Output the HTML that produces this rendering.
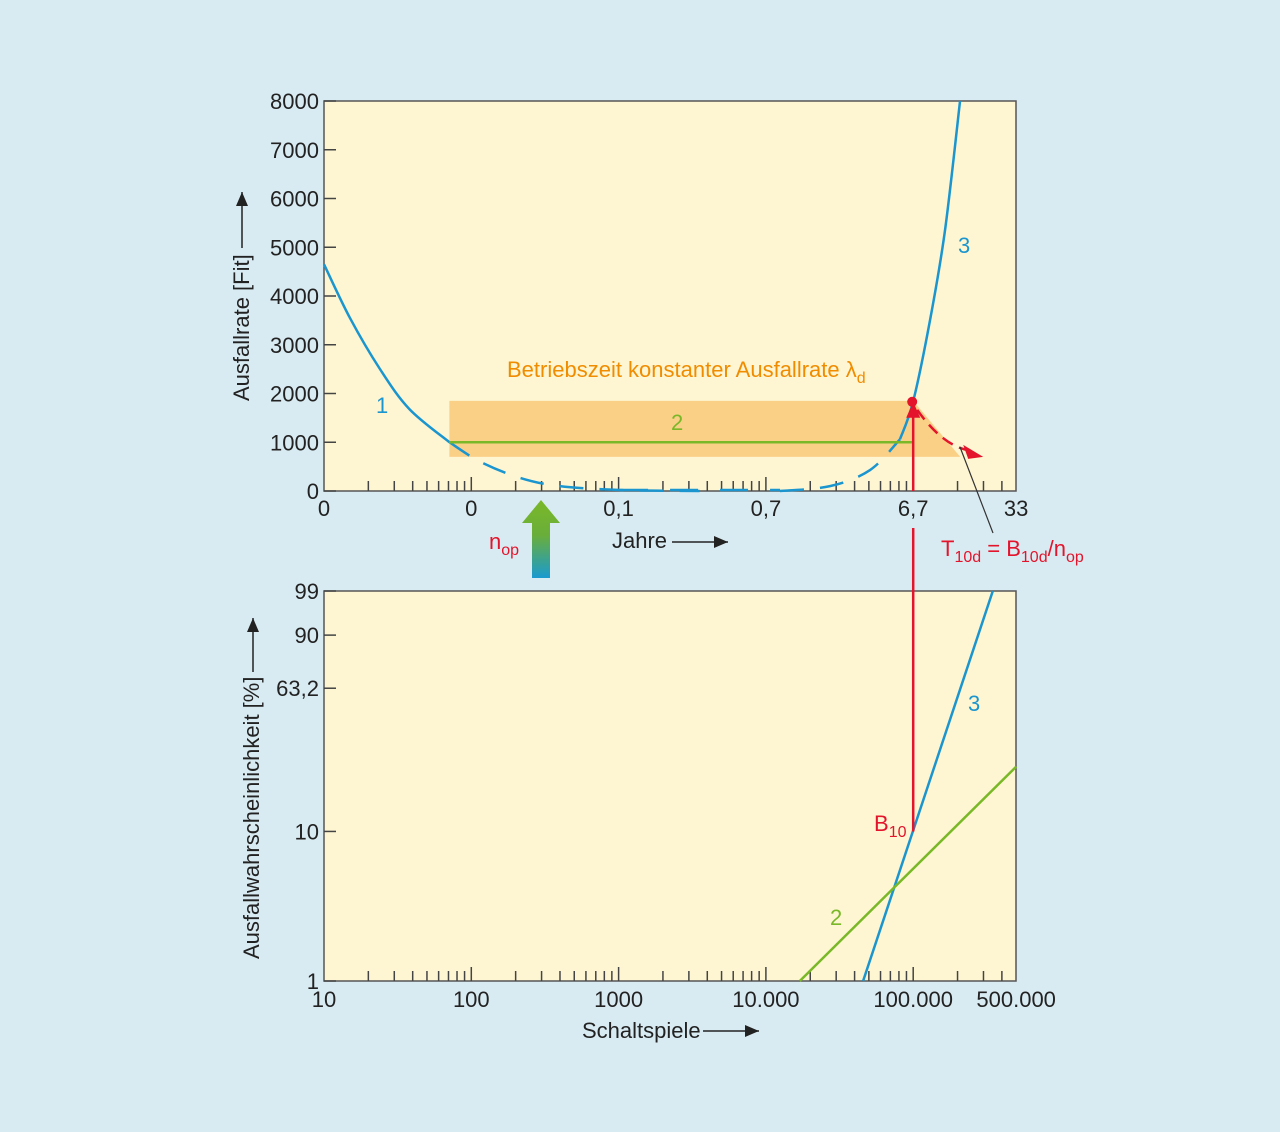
<!DOCTYPE html>
<html><head><meta charset="utf-8">
<style>
html,body{margin:0;padding:0;background:#d9ebf2;}
svg{display:block;font-family:"Liberation Sans Narrow","Liberation Sans",sans-serif;}
</style></head>
<body>
<svg id="chart" width="1280" height="1132" viewBox="0 0 1280 1132">
<defs>
<linearGradient id="arrowGrad" x1="0" y1="0" x2="0" y2="1">
<stop offset="0" stop-color="#7ab828"/><stop offset="0.45" stop-color="#6aae3a"/><stop offset="1" stop-color="#1a9ad0"/>
</linearGradient>
</defs>
<rect x="0" y="0" width="1280" height="1132" fill="#d9ebf2"/>
<g id="g"></g>
</svg>
<script>
// ---- data ----
const topYTicks = [0,1000,2000,3000,4000,5000,6000,7000,8000];
const topXLabels = ["0","0","0,1","0,7","6,7","33"];
const botXLabels = ["10","100","1000","10.000","100.000","500.000"];
const xLabelValues = [10,100,1000,10000,100000,500000];
const botYTicks = [1,10,63.2,90,99];
const botYLabels = ["1","10","63,2","90","99"];
// curve 1 (early failures) : Schaltspiele, Fit
const curve1X = [10,15,24,38,71,115,214,398,1023,3548];
const curve1Y = [4650,3550,2500,1680,1000,600,270,100,20,0];
// curve 3 (wear-out)
const curve3X = [12470,27230,50930,81280,99770,130020,164440,207970];
const curve3Y = [0,100,430,1060,1830,3500,5350,8000];
// constant rate line 2 (top)
const line2X = [71,100000];
const line2Y = [1000,1000];
// band
const bandX = [71,100000];
const bandY = [700,1850];
// bottom Weibull lines : Schaltspiele, F%
const weib3X = [45700,347000];
const weib3Y = [1,99];
const weib2X = [17000,500000];
const weib2Y = [1,25.3];
const b10X = 100000, b10F = 10, b10Fit = 1830;

// ---- axes ----
const X0=324, X1=1016, DEC=147.3;
const xs = v => X0 + (Math.log10(v)-1)*DEC;
const TY0=491, TY1=101;
const ty = v => TY0 - v*(TY0-TY1)/8000;
const BY0=981, BY1=591;
const wt = f => Math.log(-Math.log(1-f/100));
const by = f => BY0 - (wt(f)-wt(1))*(BY0-BY1)/(wt(99)-wt(1));

const g=document.getElementById('g');
const NS="http://www.w3.org/2000/svg";
function el(tag,attrs,parent){const e=document.createElementNS(NS,tag);for(const k in attrs)e.setAttribute(k,attrs[k]);(parent||g).appendChild(e);return e;}
function txt(x,y,s,attrs){const e=el('text',Object.assign({x:x,y:y,'font-size':22,fill:'#222'},attrs||{}));e.textContent=s;return e;}

// plot areas
let r=el('rect',{x:X0,y:TY1,width:X1-X0,height:TY0-TY1,fill:'#fef6d2',stroke:'#555','stroke-width':1.5});


r=el('rect',{x:X0,y:BY1,width:X1-X0,height:BY0-BY1,fill:'#fef6d2',stroke:'#555','stroke-width':1.5});



// band
const bandPts=[[xs(bandX[0]),ty(bandY[1])],[xs(bandX[1]),ty(bandY[1])],[xs(bandX[1])+47,ty(bandY[0])],[xs(bandX[0]),ty(bandY[0])]];
let band=el('polygon',{points:bandPts.map(p=>p.join(',')).join(' '),fill:'#f9c97a',opacity:0.85});



// x ticks (log minor ticks)
function xTicks(yBase,name){
  const grp=el('g',{stroke:'#444','stroke-width':1.5});
  
  
  for(let d=1;d<=5;d++){for(let m=1;m<=9;m++){const v=m*Math.pow(10,d);if(v<=10||v>500000)continue;const x=xs(v);if(x>X1-3)continue;const h=(m===1)?14:10;el('line',{x1:x,y1:yBase,x2:x,y2:yBase-h},grp);}}
}
xTicks(TY0,'top-x-ticks');
xTicks(BY0,'bottom-x-ticks');

// top y ticks & labels
topYTicks.forEach(v=>{
  const l=el('line',{x1:X0,y1:ty(v),x2:X0+12,y2:ty(v),stroke:'#444','stroke-width':1.5});
  
  
  const t=txt(319,ty(v)+8,String(v),{'text-anchor':'end'});
  
  
});
// bottom y ticks
botYTicks.forEach((v,i)=>{
  const l=el('line',{x1:X0,y1:by(v),x2:X0+12,y2:by(v),stroke:'#444','stroke-width':1.5});
  
  
  const t=txt(319,by(v)+8,botYLabels[i],{'text-anchor':'end'});
  
  
});
// x labels
xLabelValues.forEach((v,i)=>{
  let t=txt(xs(v),516,topXLabels[i],{'text-anchor':'middle'});
  
  
  t=txt(xs(v),1007,botXLabels[i],{'text-anchor':'middle'});
  
  
});

// curves
function pathD(xv,yv,fx,fy){return xv.map((v,i)=>(i?'L':'M')+fx(v).toFixed(1)+','+fy(yv[i]).toFixed(1)).join(' ');}
function smooth(xv,yv){ // catmull-rom
  const p=xv.map((v,i)=>[xs(v),ty(yv[i])]);let d='M'+p[0].join(',');
  for(let i=0;i<p.length-1;i++){const p0=p[i-1]||p[i],p1=p[i],p2=p[i+1],p3=p[i+2]||p2;
    d+=' C'+(p1[0]+(p2[0]-p0[0])/6)+','+(p1[1]+(p2[1]-p0[1])/6)+' '+(p2[0]-(p3[0]-p1[0])/6)+','+(p2[1]-(p3[1]-p1[1])/6)+' '+p2[0]+','+p2[1];}
  return d;}
const c1n=5, c3n=4;
let c=el('path',{d:smooth(curve1X.slice(0,c1n),curve1Y.slice(0,c1n)),fill:'none',stroke:'#1a95cf','stroke-width':2.5});


c=el('path',{d:smooth(curve1X.slice(c1n-1),curve1Y.slice(c1n-1)),fill:'none',stroke:'#1a95cf','stroke-width':2.5,'stroke-dasharray':'24,16'});


c=el('line',{x1:xs(1023),y1:TY0-1,x2:xs(12470),y2:TY0-1,stroke:'#1a95cf','stroke-width':2.5,'stroke-dasharray':'28,22'});


c=el('path',{d:smooth(curve3X.slice(0,c3n),curve3Y.slice(0,c3n)),fill:'none',stroke:'#1a95cf','stroke-width':2.5,'stroke-dasharray':'24,16'});


c=el('path',{d:smooth(curve3X.slice(c3n-1),curve3Y.slice(c3n-1)),fill:'none',stroke:'#1a95cf','stroke-width':2.5});



c=el('path',{d:pathD(line2X,line2Y,xs,ty),stroke:'#7ab828','stroke-width':2.5,fill:'none'});



// bottom lines
c=el('path',{d:pathD(weib3X,weib3Y,xs,by),stroke:'#1a95cf','stroke-width':2.5,fill:'none'});


c=el('path',{d:pathD(weib2X,weib2Y,xs,by),stroke:'#7ab828','stroke-width':2.5,fill:'none'});



// red B10 lines
const bx=xs(b10X);
c=el('line',{x1:bx,y1:by(b10F),x2:bx,y2:528,stroke:'#e3142b','stroke-width':2.5});


c=el('line',{x1:bx,y1:TY0,x2:bx,y2:ty(b10Fit)+14,stroke:'#e3142b','stroke-width':2.5});


c=el('polygon',{points:`${bx},${ty(b10Fit)} ${bx-7},${ty(b10Fit)+16} ${bx+7},${ty(b10Fit)+16}`,fill:'#e3142b'});


c=el('circle',{cx:bx-1,cy:ty(b10Fit),r:5,fill:'#e3142b'});


c=el('path',{d:`M${bx+4},${ty(b10Fit)+8} Q${bx+30},${ty(b10Fit)+45} ${bx+58},${ty(bandY[0])-6}`,fill:'none',stroke:'#e3142b','stroke-width':2.5,'stroke-dasharray':'12,7'});


c=el('polygon',{points:`${bx+70},${ty(bandY[0])} ${bx+50},${ty(bandY[0])-12} ${bx+55},${ty(bandY[0])+2}`,fill:'#e3142b'});


c=el('line',{x1:960,y1:447,x2:993,y2:533,stroke:'#333','stroke-width':1.2});



// green-blue arrow
c=el('polygon',{points:'541,500 560,523 550,523 550,578 532,578 532,523 522,523',fill:'url(#arrowGrad)'});



// labels
function lab(x,y,html,name,attrs){const t=el('text',Object.assign({x:x,y:y,'font-size':22,fill:'#222'},attrs||{}));t.innerHTML=html;return t;}
lab(376,413,'1','curve-1-label',{fill:'#1a95cf'});
lab(958,253,'3','curve-3-label',{fill:'#1a95cf'});
lab(671,430,'2','curve-2-label',{fill:'#7ab828'});
lab(968,711,'3','weibull-3-label',{fill:'#1a95cf'});
lab(830,925,'2','weibull-2-label',{fill:'#7ab828'});
lab(507,377,'Betriebszeit konstanter Ausfallrate λ<tspan font-size="16" dy="6">d</tspan>','band-title',{fill:'#f08c00'});
lab(489,549,'n<tspan font-size="16" dy="6">op</tspan>','nop-label',{fill:'#e3142b'});
lab(941,556,'T<tspan font-size="16" dy="6">10d</tspan><tspan dy="-6"> = B</tspan><tspan font-size="16" dy="6">10d</tspan><tspan dy="-6">/n</tspan><tspan font-size="16" dy="6">op</tspan>','t10d-formula',{fill:'#e3142b'});
lab(874,831,'B<tspan font-size="16" dy="6">10</tspan>','b10-label',{fill:'#e3142b'});
lab(612,548,'Jahre','top-x-axis-title');
lab(582,1038,'Schaltspiele','bottom-x-axis-title');
lab(0,0,'Ausfallrate [Fit]','top-y-axis-title',{transform:'translate(249,401) rotate(-90)'});
lab(0,0,'Ausfallwahrscheinlichkeit [%]','bottom-y-axis-title',{transform:'translate(259,959) rotate(-90)'});
// axis arrows
function arr(x1,y1,x2,y2,name){const grp=el('g',{});
  el('line',{x1:x1,y1:y1,x2:x2,y2:y2,stroke:'#222','stroke-width':1.5},grp);
  const ang=Math.atan2(y2-y1,x2-x1),L=14,W=6;
  const px=x2-L*Math.cos(ang),py=y2-L*Math.sin(ang);
  el('polygon',{points:`${x2},${y2} ${px+W*Math.sin(ang)},${py-W*Math.cos(ang)} ${px-W*Math.sin(ang)},${py+W*Math.cos(ang)}`,fill:'#222'},grp);}
arr(672,542,728,542,'jahre-arrow');
arr(703,1031,759,1031,'schaltspiele-arrow');
arr(242,248,242,192,'top-y-arrow');
arr(253,672,253,618,'bottom-y-arrow');
</script>
</body></html>
